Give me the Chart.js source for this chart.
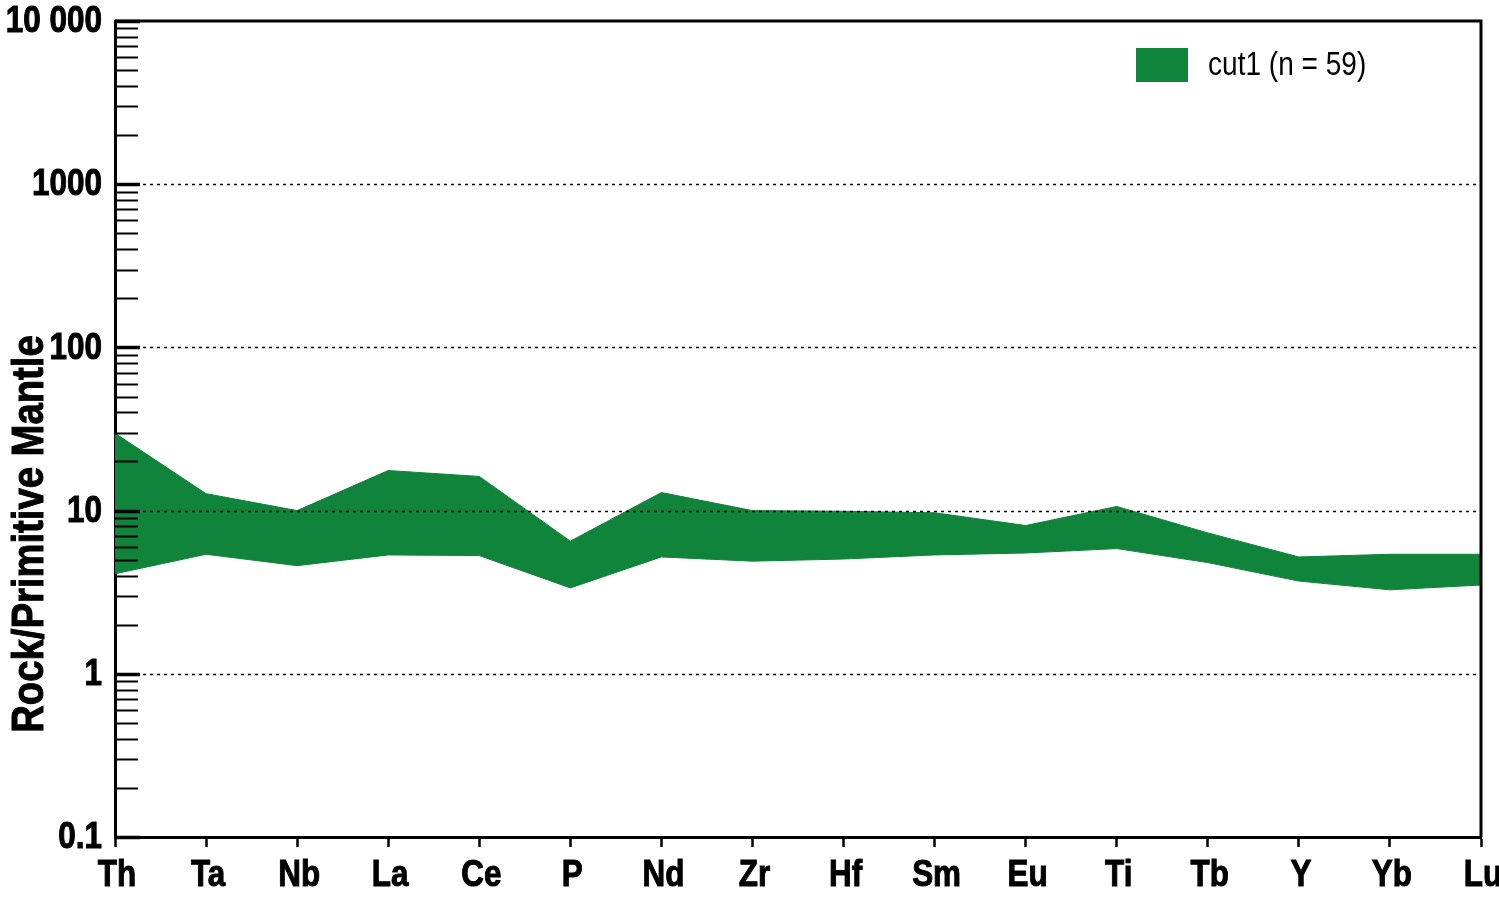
<!DOCTYPE html>
<html>
<head>
<meta charset="utf-8">
<script src="https://cdn.jsdelivr.net/npm/chart.js@4.4.1/dist/chart.umd.min.js"></script>
<style>
    html, body { margin: 0; padding: 0; background: #fff; }
    #wrap { width: 1499px; height: 900px; }
</style>
</head>
<body>
<div id="wrap"><canvas id="spider"></canvas></div>
<script>
// element order on the x-axis
const elements = ['Th', 'Ta', 'Nb', 'La', 'Ce', 'P', 'Nd', 'Zr', 'Hf', 'Sm', 'Eu', 'Ti', 'Tb', 'Y', 'Yb', 'Lu'];

// envelope of the 59 samples, normalised to primitive mantle
const upperValues = [29.8, 12.7, 10.0, 17.6, 16.2, 6.5, 12.9, 10.0, 9.9, 9.7, 8.1, 10.6, 7.3, 5.2, 5.4, 5.4];
const lowerValues = [4.1, 5.4, 4.6, 5.35, 5.3, 3.36, 5.2, 4.9, 5.05, 5.35, 5.5, 5.85, 4.8, 3.7, 3.27, 3.5];

const seriesLabel = 'cut1 (n = 59)';

// y-axis decades and their printed labels
const majorTicks = [0.1, 1, 10, 100, 1000, 10000];
const majorTickLabels = ['0.1', '1', '10', '100', '1000', '10 000'];
const minorSteps = [2, 3, 4, 5, 6, 7, 8, 9];

const yTitle = 'Rock/Primitive Mantle';

const GREEN = '#10843A';
const FONT = '"Liberation Sans", Arial, sans-serif';
const NARROW = 0.85; // squeeze Liberation Sans into an Arial Narrow look

// all y tick positions: decades plus 2..9 inside each decade
const yTickValues = [];
majorTicks.forEach((d, i) => {
    yTickValues.push(d);
    if (i < majorTicks.length - 1) minorSteps.forEach(m => yTickValues.push(m * d));
});

function narrowText(ctx, text, x, y, align, baseline, heavy) {
    ctx.save();
    ctx.translate(x, y);
    ctx.scale(NARROW, 1);
    ctx.textAlign = align;
    ctx.textBaseline = baseline;
    ctx.fillText(text, 0, 0);
    if (heavy) {
        ctx.lineWidth = 1;
        ctx.strokeStyle = ctx.fillStyle;
        ctx.strokeText(text, 0, 0);
    }
    ctx.restore();
}

// frame, inward ticks, dotted decade lines, labels, legend
const framePlugin = {
    id: 'frame',
    afterDatasetsDraw(chart) {
        const { ctx, chartArea: a, scales: { y } } = chart;
        ctx.save();
        ctx.strokeStyle = '#000';

        // dotted lines at inner decades
        ctx.lineWidth = 1.5;
        ctx.setLineDash([3, 4]);
        majorTicks.slice(1, -1).forEach(v => {
            const py = Math.round(y.getPixelForValue(v)) + 0.5;
            ctx.beginPath();
            ctx.moveTo(a.left, py);
            ctx.lineTo(a.right, py);
            ctx.stroke();
        });
        ctx.setLineDash([]);

        // ticks pointing into the plot
        yTickValues.forEach(v => {
            const major = majorTicks.includes(v);
            const py = Math.round(y.getPixelForValue(v)) + 0.5;
            ctx.lineWidth = major ? 3.5 : 2;
            ctx.beginPath();
            ctx.moveTo(a.left, py);
            ctx.lineTo(a.left + (major ? 25 : 23), py);
            ctx.stroke();
        });

        // top and right sides of the box
        ctx.lineWidth = 3;
        ctx.beginPath();
        ctx.moveTo(a.left, a.top);
        ctx.lineTo(a.right, a.top);
        ctx.lineTo(a.right, a.bottom);
        ctx.stroke();
        ctx.restore();
    },
    afterDraw(chart) {
        const { ctx, chartArea: a, scales: { x, y } } = chart;
        ctx.save();
        ctx.fillStyle = '#000';

        // tick labels
        ctx.font = 'bold 37px ' + FONT;
        majorTicks.forEach((v, i) => {
            narrowText(ctx, majorTickLabels[i], a.left - 13, y.getPixelForValue(v) + 1, 'right', 'middle', true);
        });
        elements.forEach((el, i) => {
            narrowText(ctx, el, x.getPixelForValue(i) + 2, a.bottom + 49, 'center', 'alphabetic', true);
        });

        // y-axis title, sits low on the axis like the original
        ctx.save();
        ctx.translate(43, 534);
        ctx.rotate(-Math.PI / 2);
        ctx.font = 'bold 45px ' + FONT;
        narrowText(ctx, yTitle, 0, 0, 'center', 'alphabetic', true);
        ctx.restore();

        // legend inside the top-right corner
        ctx.fillStyle = GREEN;
        ctx.fillRect(a.right - 345, a.top + 27, 52, 34);
        ctx.fillStyle = '#000';
        ctx.font = '33px ' + FONT;
        narrowText(ctx, seriesLabel, a.right - 273, a.top + 45, 'left', 'middle', false);
        ctx.restore();
    }
};

new Chart(document.getElementById('spider'), {
    type: 'line',
    data: {
        labels: elements,
        datasets: [
            {
                label: seriesLabel,
                data: upperValues,
                fill: '+1',
                backgroundColor: GREEN,
                borderColor: GREEN,
                borderWidth: 1,
                pointRadius: 0,
                tension: 0
            },
            {
                label: 'lower',
                data: lowerValues,
                fill: false,
                borderColor: GREEN,
                borderWidth: 1,
                pointRadius: 0,
                tension: 0
            }
        ]
    },
    options: {
        animation: false,
        responsive: true,
        maintainAspectRatio: false,
        layout: { padding: { top: 21, right: 18, left: 0, bottom: 0 } },
        scales: {
            x: {
                type: 'category',
                offset: false,
                grid: {
                    display: true,
                    drawOnChartArea: false,
                    drawTicks: true,
                    tickLength: 10,
                    tickWidth: 2.5,
                    tickColor: '#000'
                },
                border: { display: true, color: '#000', width: 3 },
                ticks: { display: false, autoSkip: false, maxRotation: 0 },
                afterFit(scale) { scale.height = 63; }
            },
            y: {
                type: 'logarithmic',
                min: 0.1,
                max: 10000,
                grid: { display: false, drawTicks: false },
                border: { display: true, color: '#000', width: 3 },
                afterBuildTicks(scale) {
                    scale.ticks = yTickValues.map(v => ({ value: v, major: majorTicks.includes(v) }));
                },
                ticks: { display: false, autoSkip: false },
                afterFit(scale) { scale.width = 115; }
            }
        },
        plugins: {
            legend: { display: false },
            tooltip: { enabled: false }
        }
    },
    plugins: [framePlugin]
});
</script>
</body>
</html>
